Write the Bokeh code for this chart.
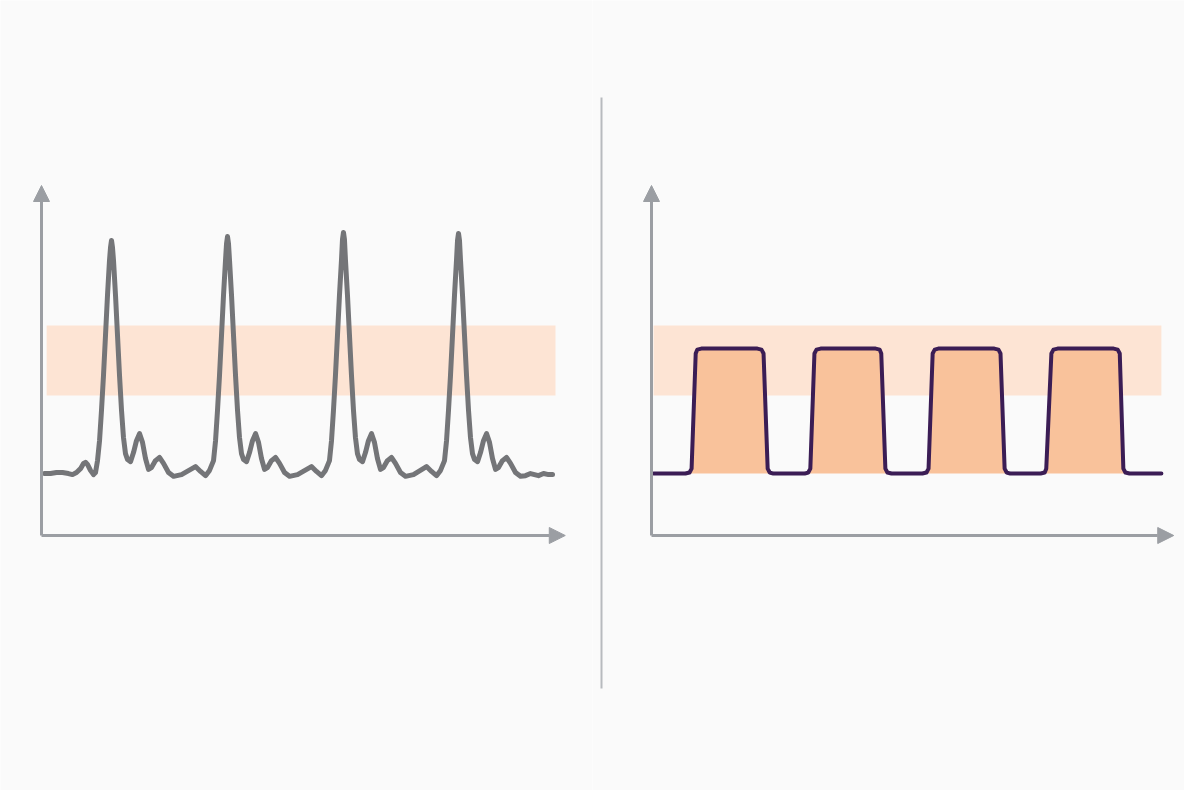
from bokeh.plotting import figure
from bokeh.layouts import row
from bokeh.models import Range1d, Arrow, NormalHead
from bokeh.embed import file_html
from bokeh.resources import INLINE

# ---------------- data ----------------
# Left panel: spiky signal (time 0..100, amplitude 0..100)
sig_t = [
    # lead-in
    0.58, 1.75, 2.92, 4.09, 5.25, 6.03, 6.81, 7.59, 8.17, 8.56, 8.95, 9.53, 10.12, 10.51,
    # spike 1
    10.90, 11.29, 11.67, 12.06, 12.45, 12.84, 13.23, 13.43, 13.62, 13.81, 14.01, 14.40, 14.79, 15.18,
    15.57, 15.95, 16.34, 16.73,
    17.32, 17.90, 18.48, 19.07, 19.65, 20.23, 20.82, 21.40, 22.18, 22.96, 23.74, 24.71, 25.68, 27.24,
    29.96, 30.94, 31.91, 32.69,
    # spike 2
    33.47, 33.86, 34.24, 34.63, 35.02, 35.41, 35.80, 36.00, 36.19, 36.38, 36.58, 36.97, 37.36, 37.75,
    38.14, 38.52, 38.91, 39.30,
    39.89, 40.47, 41.05, 41.64, 42.22, 42.80, 43.39, 43.97, 44.75, 45.53, 46.31, 47.28, 48.25, 49.81,
    52.52, 53.50, 54.47, 55.25,
    # spike 3
    56.03, 56.42, 56.80, 57.19, 57.58, 57.97, 58.36, 58.56, 58.75, 58.94, 59.14, 59.53, 59.92, 60.31,
    60.70, 61.08, 61.47, 61.86,
    62.45, 63.03, 63.61, 64.20, 64.78, 65.36, 65.95, 66.53, 67.31, 68.09, 68.87, 69.84, 70.81, 72.37,
    74.90, 75.88, 76.85, 77.63,
    # spike 4
    78.41, 78.80, 79.18, 79.57, 79.96, 80.35, 80.74, 80.94, 81.13, 81.32, 81.52, 81.91, 82.30, 82.69,
    83.08, 83.46, 83.85, 84.24,
    84.83, 85.41, 85.99, 86.58, 87.16, 87.74, 88.33, 88.91, 89.69, 90.47, 91.25, 92.22, 93.19,
    # tail
    94.16, 95.14, 95.91, 96.69, 97.67, 98.64, 99.42,
]
sig_v = [
    17.7, 17.7, 18.0, 18.0, 17.7, 17.4, 18.0, 19.1, 20.6, 20.9, 20.3, 18.6, 17.4, 18.0,
    21.4, 27.1, 35.7, 45.7, 57.1, 68.6, 78.6, 82.3, 84.3, 82.3, 78.6, 68.6, 57.1, 45.7,
    35.7, 28.0, 23.4, 21.7,
    21.1, 23.7, 27.1, 29.1, 26.6, 22.0, 18.9, 19.4, 21.4, 22.3, 20.6, 18.0, 16.9, 17.4,
    19.7, 18.3, 17.1, 18.6,
    21.4, 27.1, 35.7, 45.7, 57.1, 68.6, 78.6, 83.4, 85.4, 83.4, 78.6, 68.6, 57.1, 45.7,
    35.7, 28.0, 23.4, 21.7,
    21.1, 23.7, 27.1, 29.1, 26.6, 22.0, 18.9, 19.4, 21.4, 22.3, 20.6, 18.0, 16.9, 17.4,
    19.7, 18.3, 17.1, 18.6,
    21.4, 27.1, 35.7, 45.7, 57.1, 68.6, 78.6, 84.6, 86.6, 84.6, 78.6, 68.6, 57.1, 45.7,
    35.7, 28.0, 23.4, 21.7,
    21.1, 23.7, 27.1, 29.1, 26.6, 22.0, 18.9, 19.4, 21.4, 22.3, 20.6, 18.0, 16.9, 17.4,
    19.7, 18.3, 17.1, 18.6,
    21.4, 27.1, 35.7, 45.7, 57.1, 68.6, 78.6, 84.3, 86.3, 84.3, 78.6, 68.6, 57.1, 45.7,
    35.7, 28.0, 23.4, 21.7,
    21.1, 23.7, 27.1, 29.1, 26.6, 22.0, 18.9, 19.4, 21.4, 22.3, 20.6, 18.0, 16.9,
    17.1, 17.7, 17.4, 17.1, 17.7, 17.4, 17.4,
]

# Right panel: square wave (time 0..100, amplitude 0..100)
sq_t = [0.4,
        6.6, 7.4, 7.8, 8.6, 8.9, 9.7, 20.6, 21.4, 21.8, 22.6, 23.0, 23.7,
        29.8, 30.5, 30.9, 31.7, 32.1, 32.9, 43.6, 44.4, 44.7, 45.5, 45.9, 46.7,
        52.7, 53.5, 53.9, 54.7, 55.1, 55.8, 66.7, 67.5, 67.9, 68.7, 69.1, 69.8,
        75.7, 76.5, 76.8, 77.8, 78.2, 79.0, 89.9, 90.7, 91.1, 91.8, 92.2, 93.0,
        99.2]
sq_v = [17.7,
        17.7, 18.0, 19.1, 52.0, 53.1, 53.4, 53.4, 53.1, 52.0, 19.1, 18.0, 17.7,
        17.7, 18.0, 19.1, 52.0, 53.1, 53.4, 53.4, 53.1, 52.0, 19.1, 18.0, 17.7,
        17.7, 18.0, 19.1, 52.0, 53.1, 53.4, 53.4, 53.1, 52.0, 19.1, 18.0, 17.7,
        17.7, 18.0, 19.1, 52.0, 53.1, 53.4, 53.4, 53.1, 52.0, 19.1, 18.0, 17.7,
        17.7]
sq_low = 17.7

# Target bands (low, high) and their time extents
band_low, band_high = 40.0, 60.0
left_band_t = (1.0, 100.0)
right_band_t = (0.4, 99.2)

# Axis extents
y_axis_top = 100.0
left_x_axis_end = 101.9
right_x_axis_end = 101.6

# ---------------- style ----------------
BG = "#fafafa"
AXIS = "#9b9ea3"
SIG = "#747578"
PURPLE = "#3b1d55"
FILL = "#f9c29b"
BAND = "#fde4d4"
DIV = "#b7babe"

W, H = 592, 790
PX_X = 5.14   # px per time unit
PX_Y = 3.5    # px per amplitude unit
ORIG_Y = 535  # px of the x-axis from top of figure


def make_fig(x0):
    p = figure(width=W, height=H, output_backend="svg", toolbar_location=None,
               x_axis_type=None, y_axis_type=None, min_border=0,
               x_range=Range1d(x0, x0 + W / PX_X),
               y_range=Range1d(-(H - ORIG_Y) / PX_Y, ORIG_Y / PX_Y))
    p.background_fill_color = BG
    p.border_fill_color = BG
    p.outline_line_color = None
    p.grid.visible = False
    return p


def axes(p, xend):
    p.add_layout(Arrow(end=NormalHead(size=16, fill_color=AXIS, line_color=AXIS),
                       x_start=0, y_start=0, x_end=0, y_end=y_axis_top,
                       line_color=AXIS, line_width=3))
    p.add_layout(Arrow(end=NormalHead(size=16, fill_color=AXIS, line_color=AXIS),
                       x_start=0, y_start=0, x_end=xend, y_end=0,
                       line_color=AXIS, line_width=3))


# Left panel
pl = make_fig(-41 / PX_X)
pl.quad(left=left_band_t[0], right=left_band_t[1], bottom=band_low, top=band_high,
        fill_color=BAND, line_color=None)
axes(pl, left_x_axis_end)
pl.line(sig_t, sig_v, line_color=SIG, line_width=5, line_join="round", line_cap="round")

# Right panel
pr = make_fig(-(651 - 592) / PX_X)
pr.quad(left=right_band_t[0], right=right_band_t[1], bottom=band_low, top=band_high,
        fill_color=BAND, line_color=None)
pr.varea(x=sq_t, y1=[sq_low] * len(sq_t), y2=sq_v, fill_color=FILL)
axes(pr, right_x_axis_end)
pr.line(sq_t, sq_v, line_color=PURPLE, line_width=4, line_join="round", line_cap="round")
# divider between panels
dx = -(651 - 601) / PX_X
pr.segment(x0=[dx], y0=[(ORIG_Y - 97) / PX_Y], x1=[dx], y1=[(ORIG_Y - 688) / PX_Y],
           line_color=DIV, line_width=2)

layout = row(pl, pr, spacing=0)
open("out.html", "w").write(file_html(layout, INLINE))
